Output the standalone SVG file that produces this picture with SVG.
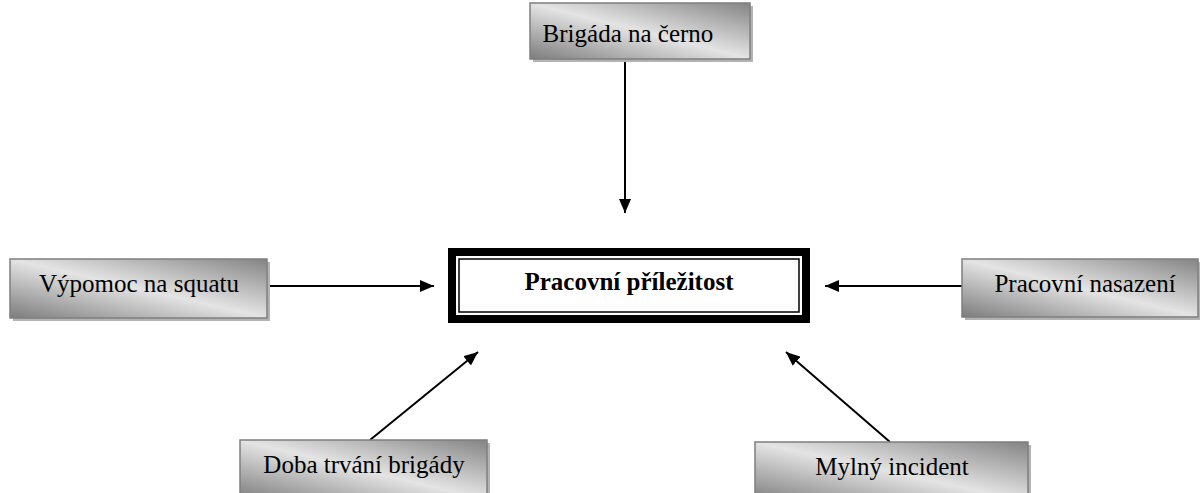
<svg xmlns="http://www.w3.org/2000/svg" width="1200" height="493" viewBox="0 0 1200 493">
<style>
.box{fill:url(#g);stroke:#7f7f7f;stroke-width:1.5}
.sh{fill:#b3b3b3}
text{font-family:'Liberation Serif','DejaVu Serif',serif;font-size:25px;fill:#000;text-anchor:middle}
.b{font-weight:bold}
.c{stroke:#000;stroke-width:2;fill:none;marker-end:url(#ah)}
</style>
<defs>
<linearGradient id="g" x1="0" y1="1" x2="1" y2="0">
<stop offset="0" stop-color="#7c7c7c"/>
<stop offset="0.5" stop-color="#e4e4e4"/>
<stop offset="1" stop-color="#848484"/>
</linearGradient>
<marker id="ah" markerWidth="14" markerHeight="12" refX="14" refY="6" orient="auto" markerUnits="userSpaceOnUse">
<path d="M0,0 L14,6 L0,12 Z" fill="#000"/>
</marker>
</defs>
<rect width="1200" height="493" fill="#fff"/>
<g id="connectors">
<line class="c" x1="625" y1="59" x2="625" y2="213"/>
<line class="c" x1="267" y1="286" x2="434" y2="286"/>
<line class="c" x1="962" y1="286" x2="825" y2="286"/>
<line class="c" x1="370" y1="440" x2="478" y2="352"/>
<line class="c" x1="890" y1="442" x2="786" y2="352"/>
</g>
<g id="n-center">
<rect x="452" y="252" width="354" height="67" fill="#fff" stroke="#000" stroke-width="8"/>
<rect x="459" y="259" width="340" height="53" fill="none" stroke="#000" stroke-width="1.5"/>
<text class="b" x="629" y="290" font-family="Liberation Serif, serif">Pracovní příležitost</text>
</g>
<g id="n-top">
<rect class="sh" x="533" y="6" width="220" height="56"/>
<rect class="box" x="530" y="3" width="220" height="56"/>
<text x="628" y="42" font-family="Liberation Serif, serif">Brigáda na černo</text>
</g>
<g id="n-left">
<rect class="sh" x="13" y="262" width="257" height="59"/>
<rect class="box" x="10" y="259" width="257" height="59"/>
<text x="139" y="292" font-family="Liberation Serif, serif">Výpomoc na squatu</text>
</g>
<g id="n-right">
<rect class="sh" x="965" y="262" width="236" height="58"/>
<rect class="box" x="962" y="259" width="236" height="58"/>
<text x="1085" y="292" font-family="Liberation Serif, serif">Pracovní nasazení</text>
</g>
<g id="n-bl">
<rect class="sh" x="243" y="443" width="247" height="60"/>
<rect class="box" x="240" y="440" width="247" height="60"/>
<text x="364" y="473" font-family="Liberation Serif, serif">Doba trvání brigády</text>
</g>
<g id="n-br">
<rect class="sh" x="758" y="445" width="273" height="60"/>
<rect class="box" x="755" y="442" width="273" height="60"/>
<text x="892" y="475" font-family="Liberation Serif, serif">Mylný incident</text>
</g>
</svg>
